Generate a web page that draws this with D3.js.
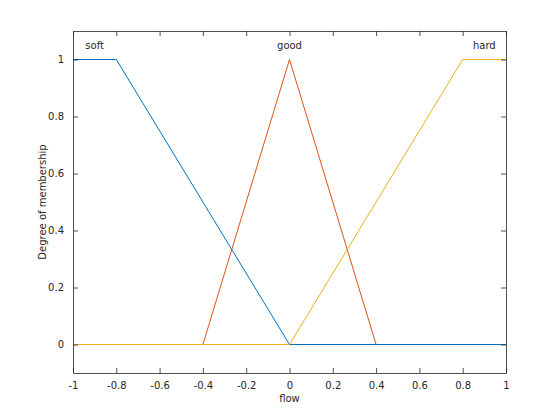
<!DOCTYPE html>
<html><head><meta charset="utf-8">
<script src="https://cdn.jsdelivr.net/npm/d3@7"></script>
<style>body{margin:0;background:#fff}svg{display:block}text{font-family:"DejaVu Sans",sans-serif}</style>
</head><body>
<svg id="c" width="560" height="420"></svg>
<script>
const xTicks = [-1,-0.8,-0.6,-0.4,-0.2,0,0.2,0.4,0.6,0.8,1];
const yTicks = [0,0.2,0.4,0.6,0.8,1];
const mfNames = ["good","soft","hard"];
const mfColors = ["#D95319","#0072BD","#EDB120"];
const goodX = [-1,-0.4,0,0.4,1], goodY = [0,0,1,0,0];
const softX = [-1,-0.8,0,1], softY = [1,1,0,0];
const hardX = [-1,0,0.8,1], hardY = [0,0,1,1];
const labelX = [0,-0.9,0.9];
const labelY = [1.05,1.05,1.05];
const series = [[goodX,goodY],[softX,softY],[hardX,hardY]];

const svg = d3.select("#c");
const L=73,R=506,T=31,B=373;
const x = d3.scaleLinear().domain([-1,1]).range([L,R]);
const y = d3.scaleLinear().domain([-0.1,1.1]).range([B,T]);
const ac="#262626";
const fmt = d => String(+d.toFixed(1));

const line = d3.line();
series.forEach((s,i)=>{
  svg.append("path").attr("fill","none").attr("stroke",mfColors[i]).attr("stroke-width",1)
    .attr("d",line(s[0].map((v,j)=>[x(v),y(s[1][j])])));
});

const gx = svg.append("g").attr("transform",`translate(0,${B})`)
  .call(d3.axisBottom(x).tickValues(xTicks).tickSizeInner(-5).tickSizeOuter(0).tickPadding(9).tickFormat(fmt));
const gxt = svg.append("g").attr("transform",`translate(0,${T})`)
  .call(d3.axisTop(x).tickValues(xTicks).tickSizeInner(-5).tickSizeOuter(0).tickFormat(""));
const gy = svg.append("g").attr("transform",`translate(${L},0)`)
  .call(d3.axisLeft(y).tickValues(yTicks).tickSizeInner(-5).tickSizeOuter(0).tickPadding(9).tickFormat(fmt));
const gyr = svg.append("g").attr("transform",`translate(${R},0)`)
  .call(d3.axisRight(y).tickValues(yTicks).tickSizeInner(-5).tickSizeOuter(0).tickFormat(""));
[gx,gxt,gy,gyr].forEach(g=>{
  g.selectAll("path,line").attr("stroke",ac).attr("stroke-width",0.8);
  g.selectAll("text").attr("fill",ac).style("font-size","10px").style("font-family","DejaVu Sans, sans-serif");
});

mfNames.forEach((n,i)=>{
  svg.append("text").attr("x",x(labelX[i])).attr("y",y(labelY[i])).attr("dy","0.35em")
   .attr("text-anchor","middle").style("font-size","10px").attr("fill","#262626").text(n);
});
svg.append("text").attr("x",(L+R)/2).attr("y",402).attr("text-anchor","middle")
  .style("font-size","10px").attr("fill",ac).text("flow");
svg.append("text").attr("transform",`translate(46,${(T+B)/2}) rotate(-90)`).attr("text-anchor","middle")
  .style("font-size","10px").attr("fill",ac).text("Degree of membership");
</script>
</body></html>
